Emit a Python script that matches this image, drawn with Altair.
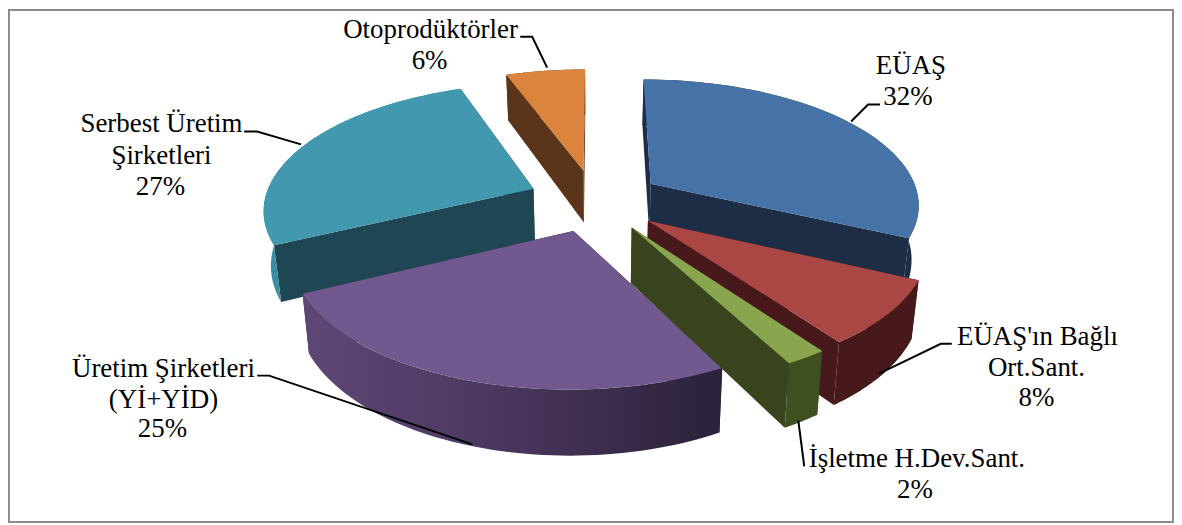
import numpy as np
import pandas as pd
import altair as alt

# ---- chart values ----
CATEGORIES = ["EÜAŞ", "EÜAŞ'ın Bağlı Ort.Sant.", "İşletme H.Dev.Sant.",
              "Üretim Şirketleri (Yİ+YİD)", "Serbest Üretim Şirketleri", "Otoprodüktörler"]
SHARES = [32, 8.1, 2.1, 25.6, 26.6, 5.6]

# ---- styles ----
TOP = ["#4572A7", "#AA4643", "#89A54E", "#71588F", "#4198AF", "#DB843D"]
WALL = ["#1C2D45", "#47191A", "#38441E", "#2E2440", "#1E4653", "#5A351A"]
OUTER = ["#1C2D45", "#47191A", "#3F5020", None, "#3B8CA3", "#5A351A"]
PAINT_ORDER = [5, 4, 0, 1, 3, 2]

# ---- labels and leaders (annotation layout) ----
LABELS = [("Otoprodüktörler", 432, 29), ("6%", 431, 60),
          ("Serbest Üretim", 162, 124), ("Şirketleri", 162, 156), ("27%", 161, 187),
          ("EÜAŞ", 914, 65), ("32%", 911, 96),
          ("EÜAŞ'ın Bağlı", 1041, 337), ("Ort.Sant.", 1040, 368), ("8%", 1040, 398),
          ("İşletme H.Dev.Sant.", 920, 460), ("2%", 918, 491),
          ("Üretim Şirketleri", 164, 369), ("(Yİ+YİD)", 164, 400), ("25%", 163, 430)]
LEADERS = [[(522, 36), (534, 36), (549, 67)],
           [(245, 131), (258, 131), (302, 144)],
           [(883, 104), (871, 104), (854, 121)],
           [(955, 344), (944, 344), (882, 374)],
           [(807, 467), (801, 421)],
           [(258, 376), (270, 376), (474, 445)]]

# ---- projection of the tilted pie ----
CX, CY, A, B, K, H, LEAN, EXPLODE, START = 597, 200, 270, 125, 0.15, 54, 0.978, 0.25, 0.0


def project(u, v, low):
    s = 1 / (1 + K * v)
    x = CX + A * u * s * (LEAN if low else 1)
    y = CY - B * v * s + (H * s if low else 0)
    return x, y


def slice_faces():
    bounds = START + np.cumsum([0] + SHARES) * 3.6
    faces = {}
    for i in range(len(SHARES)):
        t0, t1 = np.radians(bounds[i]), np.radians(bounds[i + 1])
        mid = (t0 + t1) / 2
        ou, ov = EXPLODE * np.sin(mid), EXPLODE * np.cos(mid)
        th = np.linspace(t0, t1, 60)
        au, av = ou + np.sin(th), ov + np.cos(th)
        tx, ty = project(au, av, False)
        bx, by = project(au, av, True)
        ax0, ay0 = project(ou, ov, False)
        ax1, ay1 = project(ou, ov, True)
        faces[i] = {
            "wall0": ([ax0, tx[0], bx[0], ax1], [ay0, ty[0], by[0], ay1]),
            "wall1": ([ax0, tx[-1], bx[-1], ax1], [ay0, ty[-1], by[-1], ay1]),
            "outer": (list(tx) + list(bx[::-1]), list(ty) + list(by[::-1])),
            "top": ([ax0] + list(tx), [ay0] + list(ty)),
        }
    return faces


X = alt.X("x:Q", scale=alt.Scale(domain=[8, 1178], nice=False, zero=False), axis=None)
Y = alt.Y("y:Q", scale=alt.Scale(domain=[524, 8], nice=False, zero=False), axis=None)


def poly(xs, ys, fill):
    xs, ys = list(xs), list(ys)
    df = pd.DataFrame({"x": xs + xs[:1], "y": ys + ys[:1]})
    df["i"] = range(len(df))
    return alt.Chart(df).mark_line(fill=fill, stroke=None, strokeWidth=0, interpolate="linear").encode(
        x=X, y=Y, order="i:Q")


PURPLE_GRAD = alt.LinearGradient(
    gradient="linear", x1=0, y1=0, x2=1, y2=0,
    stops=[alt.GradientStop(color="#5F4775", offset=0),
           alt.GradientStop(color="#4B3860", offset=0.45),
           alt.GradientStop(color="#2B2139", offset=1)])

layers = []
faces = slice_faces()
for i in PAINT_ORDER:
    f = faces[i]
    layers.append(poly(*f["wall0"], WALL[i]))
    layers.append(poly(*f["wall1"], WALL[i]))
    layers.append(poly(*f["outer"], OUTER[i] if OUTER[i] else PURPLE_GRAD))
    layers.append(poly(*f["top"], TOP[i]))

for n, pts in enumerate(LEADERS):
    df = pd.DataFrame(pts, columns=["x", "y"])
    df["i"] = range(len(df))
    layers.append(alt.Chart(df).mark_line(color="#000000", strokeWidth=2).encode(x=X, y=Y, order="i:Q"))

lab = pd.DataFrame(LABELS, columns=["t", "x", "y"])
layers.append(alt.Chart(lab).mark_text(font="Liberation Serif", fontSize=27, color="#000000",
                                       align="center", baseline="middle").encode(x=X, y=Y, text="t:N"))

# frame
frame = pd.DataFrame({"x": [9], "x2": [1177], "y": [9], "y2": [523]})
layers.append(alt.Chart(frame).mark_rect(fill=None, stroke="#8C8C8C", strokeWidth=2).encode(
    x=X, x2="x2:Q", y=Y, y2="y2:Q"))

chart = alt.layer(*layers).properties(
    width=1170, height=516, padding=0, background="#FFFFFF",
    autosize=alt.AutoSizeParams(type="none")
).configure_view(stroke=None)

chart.save("out.html", embed_options={"renderer": "svg", "actions": False})
